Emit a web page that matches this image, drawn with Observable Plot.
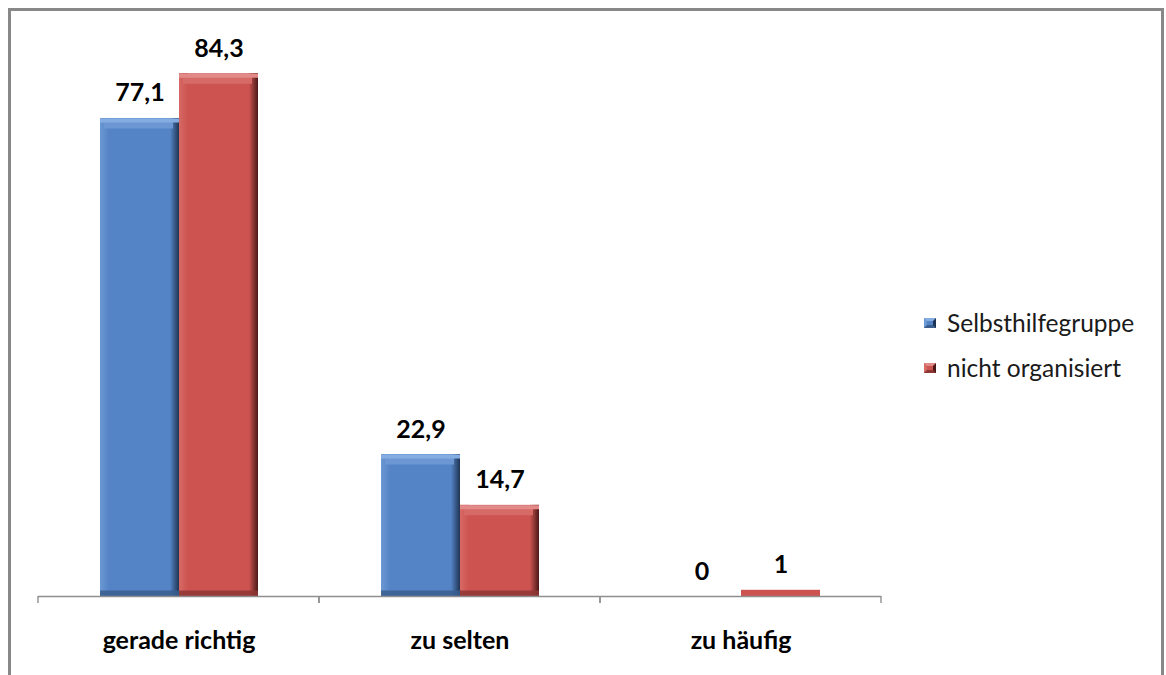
<!DOCTYPE html>
<html>
<head>
<meta charset="utf-8">
<script src="https://cdn.jsdelivr.net/npm/d3@7"></script>
<script src="https://cdn.jsdelivr.net/npm/@observablehq/plot@0.6"></script>
<style>
  body { margin: 0; background: #fff; }
  #wrap { position: relative; width: 1166px; height: 675px; overflow: hidden; font-family: Lato, "Open Sans", sans-serif; }
  #border { position: absolute; left: 8px; top: 8px; width: 1150px; height: 720px; border: 3px solid #888; }
  #chart { position: absolute; left: 0; top: 0; }
  #legend { position: absolute; left: 924px; top: 300px; }
  .item { display: flex; align-items: center; height: 45px; font-size: 24.5px; color: #1a1a1a; }
  .sw { width: 6px; height: 4px; border-style: solid; border-width: 3px; margin-right: 11px; }
</style>
</head>
<body>
<div id="wrap">
  <div id="border"></div>
  <div id="chart"></div>
  <div id="legend"></div>
</div>
<script>
// Answers per group (percent)
const categories = ["gerade richtig", "zu selten", "zu häufig"];
const series = ["Selbsthilfegruppe", "nicht organisiert"];
const selbsthilfegruppe = [77.1, 22.9, 0];
const nichtOrganisiert = [84.3, 14.7, 1];

const rows = categories.flatMap((c, i) => [
  {category: c, series: series[0], value: selbsthilfegruppe[i]},
  {category: c, series: series[1], value: nichtOrganisiert[i]}
]);

// bevelled bar colours per series
const palette = {
  "Selbsthilfegruppe": {id: "s0", main: "#5484C6", light: "#86ADE1", mid: "#6C97D2", side: "#6C98D3", dark: "#1F3452", bottom: "#3A5E8E"},
  "nicht organisiert": {id: "s1", main: "#CC5350", light: "#E28A87", mid: "#D66A66", side: "#D76965", dark: "#4A1918", bottom: "#8E3634"}
};

const fmt = v => v.toLocaleString("de-DE");
const pos = {fx: "category", x: "series"};

const barMarks = series.flatMap(s => {
  const p = palette[s];
  const mine = d => d.series === s;
  const tall = d => d.series === s && d.value > 2;
  return [
    Plot.barY(rows, {...pos, y: "value", filter: mine, fill: p.main}),
    Plot.barY(rows, {...pos, y: "value", filter: tall, fill: `url(#left-${p.id})`, insetRight: 70}),
    Plot.barY(rows, {...pos, y: "value", filter: tall, fill: `url(#right-${p.id})`, insetLeft: 70}),
    Plot.tickY(rows, {...pos, y: "value", filter: tall, stroke: p.mid, strokeWidth: 10, dy: 5, insetLeft: 4, insetRight: 6}),
    Plot.tickY(rows, {...pos, y: "value", filter: tall, stroke: p.light, strokeWidth: 4, dy: 2}),
    Plot.tickY(rows, {...pos, y: () => 0, filter: tall, stroke: p.bottom, strokeWidth: 6, dy: -3, strokeOpacity: 0.85})
  ];
});

const plot = Plot.plot({
  width: 1166,
  height: 675,
  marginLeft: 38,
  marginRight: 285,
  marginTop: 38,
  marginBottom: 79,
  style: {fontFamily: "Lato, sans-serif", fontSize: "25px", fontWeight: "bold", color: "#000", background: "transparent", overflow: "visible"},
  fx: {domain: categories, padding: 0, label: null, tickSize: 0, tickPadding: 35, axis: "bottom"},
  x: {domain: series, paddingInner: 0, paddingOuter: 0.76, axis: null},
  y: {domain: [0, 90], axis: null},
  marks: [
    ...barMarks,
    Plot.ruleY([0], {stroke: "#8f8f8f", strokeWidth: 1.4}),
    // category boundary ticks below the baseline
    (index, {x, y}) => {
      const g = d3.create("svg:g").attr("stroke", "#8f8f8f").attr("stroke-width", 1.4);
      const [a, b] = x.range();
      const y0 = y(0);
      for (const px of [a, b]) {
        g.append("line").attr("x1", px).attr("x2", px).attr("y1", y0).attr("y2", y0 + 7);
      }
      return g.node();
    },
    Plot.text(rows, {...pos, y: "value", text: d => fmt(d.value), lineAnchor: "bottom", dy: -17, fill: "#000"})
  ]
});

// gradients for the side edges of the bars
const defs = d3.select(plot).insert("defs", ":first-child");
for (const s of series) {
  const p = palette[s];
  const l = defs.append("linearGradient").attr("id", `left-${p.id}`).attr("x1", 0).attr("x2", 1).attr("y1", 0).attr("y2", 0);
  l.append("stop").attr("offset", 0).attr("stop-color", p.side);
  l.append("stop").attr("offset", 1).attr("stop-color", p.main);
  const r = defs.append("linearGradient").attr("id", `right-${p.id}`).attr("x1", 0).attr("x2", 1).attr("y1", 0).attr("y2", 0);
  r.append("stop").attr("offset", 0).attr("stop-color", p.main);
  r.append("stop").attr("offset", 1).attr("stop-color", p.dark);
}

document.getElementById("chart").append(plot);

// legend
const legend = d3.select("#legend");
for (const s of series) {
  const p = palette[s];
  const item = legend.append("div").attr("class", "item");
  item.append("span").attr("class", "sw")
    .style("background", p.main)
    .style("border-color", `${p.light} ${p.dark} ${p.bottom} ${p.side}`);
  item.append("span").text(s);
}
</script>
</body>
</html>
